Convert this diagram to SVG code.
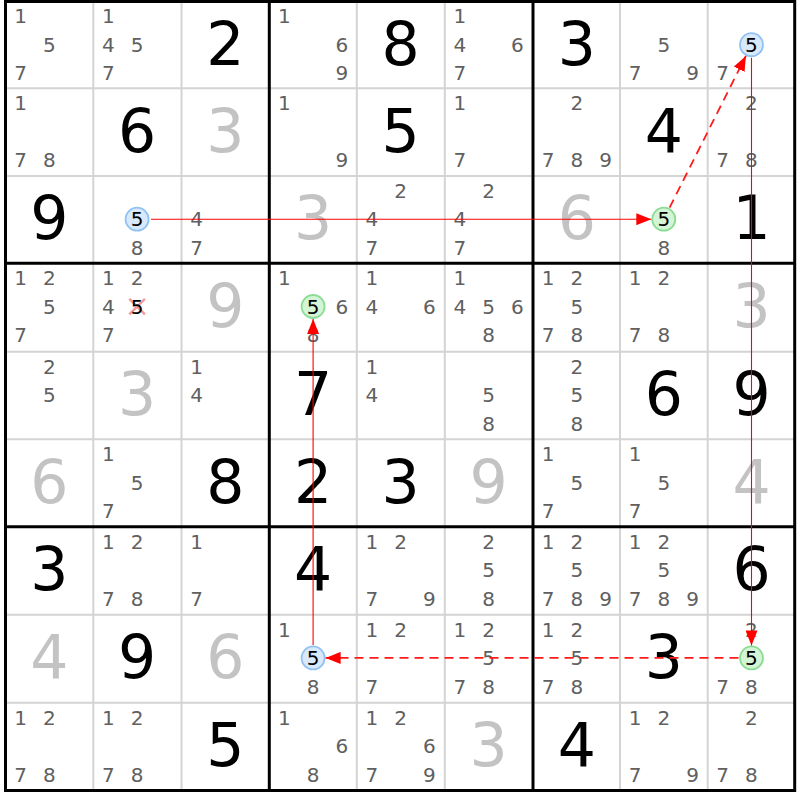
<svg xmlns="http://www.w3.org/2000/svg" width="800" height="800" viewBox="0 0 800 800">
<style>
text{font-family:"DejaVu Sans","Liberation Sans",sans-serif;text-anchor:middle}
.k{font-size:20px;fill:#606060}
.kh{font-size:20px;fill:#000}
.v{font-size:60px;fill:#000}
.vs{font-size:60px;fill:#c3c3c3}
.thin{stroke:#d4d4d4;stroke-width:2;fill:none}
.thick{stroke:#000;stroke-width:3;fill:none}
.cb{fill:#d9e9fc;stroke:#92c2f2;stroke-width:1.8}
.cg{fill:#d4f4d6;stroke:#8cdc96;stroke-width:1.8}
.sl{stroke:#ff0000;stroke-width:1.1;fill:none}
.dl{stroke:#ff1a1a;stroke-width:1.8;fill:none;stroke-dasharray:9 6}
.x{stroke:#f29a9a;stroke-width:2.5}
</style>
<defs>
<marker id="ah" markerUnits="userSpaceOnUse" viewBox="0 0 16 12" markerWidth="16" markerHeight="12" refX="15" refY="6" orient="auto"><path d="M0,0 L15,6 L0,12 z" fill="#ff0000"/></marker>
</defs>
<rect width="800" height="800" fill="#fff"/>
<g id="grid">
<path class="thin" d="M93.3,1.5V790.5M181.5,1.5V790.5M356.8,1.5V790.5M444.8,1.5V790.5M620,1.5V790.5M707.7,1.5V790.5M5.5,88.3H794.7M5.5,176H794.7M5.5,351.7H794.7M5.5,439.3H794.7M5.5,614.7H794.7M5.5,702.7H794.7"/>
<path class="thick" d="M269.3,1.5V790.5M533,1.5V790.5M5.5,263.3H794.7M5.5,526.7H794.7"/>
<rect class="thick" x="5.5" y="1.5" width="789.2" height="789"/>
</g>
<!-- row 0 -->
<g id="r0c0" transform="translate(5.5,1.5)"><text class="k" x="15" y="21.9">1</text><text class="k" x="43.8" y="50.4">5</text><text class="k" x="15" y="78.9">7</text></g>
<g id="r0c1" transform="translate(93.3,1.5)"><text class="k" x="15" y="21.9">1</text><text class="k" x="15" y="50.4">4</text><text class="k" x="43.8" y="50.4">5</text><text class="k" x="15" y="78.9">7</text></g>
<g id="r0c2" transform="translate(181.5,1.5)"><text class="v" x="43.8" y="63.3">2</text></g>
<g id="r0c3" transform="translate(269.3,1.5)"><text class="k" x="15" y="21.9">1</text><text class="k" x="72.6" y="50.4">6</text><text class="k" x="72.6" y="78.9">9</text></g>
<g id="r0c4" transform="translate(356.8,1.5)"><text class="v" x="43.8" y="63.3">8</text></g>
<g id="r0c5" transform="translate(444.8,1.5)"><text class="k" x="15" y="21.9">1</text><text class="k" x="15" y="50.4">4</text><text class="k" x="72.6" y="50.4">6</text><text class="k" x="15" y="78.9">7</text></g>
<g id="r0c6" transform="translate(533,1.5)"><text class="v" x="43.8" y="63.3">3</text></g>
<g id="r0c7" transform="translate(620,1.5)"><text class="k" x="43.8" y="50.4">5</text><text class="k" x="15" y="78.9">7</text><text class="k" x="72.6" y="78.9">9</text></g>
<g id="r0c8" transform="translate(707.7,1.5)"><circle class="cb" cx="43.8" cy="43.2" r="11.5"/><text class="kh" x="43.8" y="50.4">5</text><text class="k" x="15" y="78.9">7</text></g>
<!-- row 1 -->
<g id="r1c0" transform="translate(5.5,88.3)"><text class="k" x="15" y="21.9">1</text><text class="k" x="15" y="78.9">7</text><text class="k" x="43.8" y="78.9">8</text></g>
<g id="r1c1" transform="translate(93.3,88.3)"><text class="v" x="43.8" y="63.3">6</text></g>
<g id="r1c2" transform="translate(181.5,88.3)"><text class="vs" x="43.8" y="63.3">3</text></g>
<g id="r1c3" transform="translate(269.3,88.3)"><text class="k" x="15" y="21.9">1</text><text class="k" x="72.6" y="78.9">9</text></g>
<g id="r1c4" transform="translate(356.8,88.3)"><text class="v" x="43.8" y="63.3">5</text></g>
<g id="r1c5" transform="translate(444.8,88.3)"><text class="k" x="15" y="21.9">1</text><text class="k" x="15" y="78.9">7</text></g>
<g id="r1c6" transform="translate(533,88.3)"><text class="k" x="43.8" y="21.9">2</text><text class="k" x="15" y="78.9">7</text><text class="k" x="43.8" y="78.9">8</text><text class="k" x="72.6" y="78.9">9</text></g>
<g id="r1c7" transform="translate(620,88.3)"><text class="v" x="43.8" y="63.3">4</text></g>
<g id="r1c8" transform="translate(707.7,88.3)"><text class="k" x="43.8" y="21.9">2</text><text class="k" x="15" y="78.9">7</text><text class="k" x="43.8" y="78.9">8</text></g>
<!-- row 2 -->
<g id="r2c0" transform="translate(5.5,176)"><text class="v" x="43.8" y="63.3">9</text></g>
<g id="r2c1" transform="translate(93.3,176)"><circle class="cb" cx="43.8" cy="43.2" r="11.5"/><text class="kh" x="43.8" y="50.4">5</text><text class="k" x="43.8" y="78.9">8</text></g>
<g id="r2c2" transform="translate(181.5,176)"><text class="k" x="15" y="50.4">4</text><text class="k" x="15" y="78.9">7</text></g>
<g id="r2c3" transform="translate(269.3,176)"><text class="vs" x="43.8" y="63.3">3</text></g>
<g id="r2c4" transform="translate(356.8,176)"><text class="k" x="43.8" y="21.9">2</text><text class="k" x="15" y="50.4">4</text><text class="k" x="15" y="78.9">7</text></g>
<g id="r2c5" transform="translate(444.8,176)"><text class="k" x="43.8" y="21.9">2</text><text class="k" x="15" y="50.4">4</text><text class="k" x="15" y="78.9">7</text></g>
<g id="r2c6" transform="translate(533,176)"><text class="vs" x="43.8" y="63.3">6</text></g>
<g id="r2c7" transform="translate(620,176)"><circle class="cg" cx="43.8" cy="43.2" r="11.5"/><text class="kh" x="43.8" y="50.4">5</text><text class="k" x="43.8" y="78.9">8</text></g>
<g id="r2c8" transform="translate(707.7,176)"><text class="v" x="43.8" y="63.3">1</text></g>
<!-- row 3 -->
<g id="r3c0" transform="translate(5.5,263.3)"><text class="k" x="15" y="21.9">1</text><text class="k" x="43.8" y="21.9">2</text><text class="k" x="43.8" y="50.4">5</text><text class="k" x="15" y="78.9">7</text></g>
<g id="r3c1" transform="translate(93.3,263.3)"><text class="k" x="15" y="21.9">1</text><text class="k" x="43.8" y="21.9">2</text><text class="k" x="15" y="50.4">4</text><path class="x" d="M36,35.5L51.6,51M51.6,35.5L36,51"/><text class="kh" x="43.8" y="50.4">5</text><text class="k" x="15" y="78.9">7</text></g>
<g id="r3c2" transform="translate(181.5,263.3)"><text class="vs" x="43.8" y="63.3">9</text></g>
<g id="r3c3" transform="translate(269.3,263.3)"><text class="k" x="15" y="21.9">1</text><circle class="cg" cx="43.8" cy="43.2" r="11.5"/><text class="kh" x="43.8" y="50.4">5</text><text class="k" x="72.6" y="50.4">6</text><text class="k" x="43.8" y="78.9">8</text></g>
<g id="r3c4" transform="translate(356.8,263.3)"><text class="k" x="15" y="21.9">1</text><text class="k" x="15" y="50.4">4</text><text class="k" x="72.6" y="50.4">6</text></g>
<g id="r3c5" transform="translate(444.8,263.3)"><text class="k" x="15" y="21.9">1</text><text class="k" x="15" y="50.4">4</text><text class="k" x="43.8" y="50.4">5</text><text class="k" x="72.6" y="50.4">6</text><text class="k" x="43.8" y="78.9">8</text></g>
<g id="r3c6" transform="translate(533,263.3)"><text class="k" x="15" y="21.9">1</text><text class="k" x="43.8" y="21.9">2</text><text class="k" x="43.8" y="50.4">5</text><text class="k" x="15" y="78.9">7</text><text class="k" x="43.8" y="78.9">8</text></g>
<g id="r3c7" transform="translate(620,263.3)"><text class="k" x="15" y="21.9">1</text><text class="k" x="43.8" y="21.9">2</text><text class="k" x="15" y="78.9">7</text><text class="k" x="43.8" y="78.9">8</text></g>
<g id="r3c8" transform="translate(707.7,263.3)"><text class="vs" x="43.8" y="63.3">3</text></g>
<!-- row 4 -->
<g id="r4c0" transform="translate(5.5,351.7)"><text class="k" x="43.8" y="21.9">2</text><text class="k" x="43.8" y="50.4">5</text></g>
<g id="r4c1" transform="translate(93.3,351.7)"><text class="vs" x="43.8" y="63.3">3</text></g>
<g id="r4c2" transform="translate(181.5,351.7)"><text class="k" x="15" y="21.9">1</text><text class="k" x="15" y="50.4">4</text></g>
<g id="r4c3" transform="translate(269.3,351.7)"><text class="v" x="43.8" y="63.3">7</text></g>
<g id="r4c4" transform="translate(356.8,351.7)"><text class="k" x="15" y="21.9">1</text><text class="k" x="15" y="50.4">4</text></g>
<g id="r4c5" transform="translate(444.8,351.7)"><text class="k" x="43.8" y="50.4">5</text><text class="k" x="43.8" y="78.9">8</text></g>
<g id="r4c6" transform="translate(533,351.7)"><text class="k" x="43.8" y="21.9">2</text><text class="k" x="43.8" y="50.4">5</text><text class="k" x="43.8" y="78.9">8</text></g>
<g id="r4c7" transform="translate(620,351.7)"><text class="v" x="43.8" y="63.3">6</text></g>
<g id="r4c8" transform="translate(707.7,351.7)"><text class="v" x="43.8" y="63.3">9</text></g>
<!-- row 5 -->
<g id="r5c0" transform="translate(5.5,439.3)"><text class="vs" x="43.8" y="63.3">6</text></g>
<g id="r5c1" transform="translate(93.3,439.3)"><text class="k" x="15" y="21.9">1</text><text class="k" x="43.8" y="50.4">5</text><text class="k" x="15" y="78.9">7</text></g>
<g id="r5c2" transform="translate(181.5,439.3)"><text class="v" x="43.8" y="63.3">8</text></g>
<g id="r5c3" transform="translate(269.3,439.3)"><text class="v" x="43.8" y="63.3">2</text></g>
<g id="r5c4" transform="translate(356.8,439.3)"><text class="v" x="43.8" y="63.3">3</text></g>
<g id="r5c5" transform="translate(444.8,439.3)"><text class="vs" x="43.8" y="63.3">9</text></g>
<g id="r5c6" transform="translate(533,439.3)"><text class="k" x="15" y="21.9">1</text><text class="k" x="43.8" y="50.4">5</text><text class="k" x="15" y="78.9">7</text></g>
<g id="r5c7" transform="translate(620,439.3)"><text class="k" x="15" y="21.9">1</text><text class="k" x="43.8" y="50.4">5</text><text class="k" x="15" y="78.9">7</text></g>
<g id="r5c8" transform="translate(707.7,439.3)"><text class="vs" x="43.8" y="63.3">4</text></g>
<!-- row 6 -->
<g id="r6c0" transform="translate(5.5,526.7)"><text class="v" x="43.8" y="63.3">3</text></g>
<g id="r6c1" transform="translate(93.3,526.7)"><text class="k" x="15" y="21.9">1</text><text class="k" x="43.8" y="21.9">2</text><text class="k" x="15" y="78.9">7</text><text class="k" x="43.8" y="78.9">8</text></g>
<g id="r6c2" transform="translate(181.5,526.7)"><text class="k" x="15" y="21.9">1</text><text class="k" x="15" y="78.9">7</text></g>
<g id="r6c3" transform="translate(269.3,526.7)"><text class="v" x="43.8" y="63.3">4</text></g>
<g id="r6c4" transform="translate(356.8,526.7)"><text class="k" x="15" y="21.9">1</text><text class="k" x="43.8" y="21.9">2</text><text class="k" x="15" y="78.9">7</text><text class="k" x="72.6" y="78.9">9</text></g>
<g id="r6c5" transform="translate(444.8,526.7)"><text class="k" x="43.8" y="21.9">2</text><text class="k" x="43.8" y="50.4">5</text><text class="k" x="43.8" y="78.9">8</text></g>
<g id="r6c6" transform="translate(533,526.7)"><text class="k" x="15" y="21.9">1</text><text class="k" x="43.8" y="21.9">2</text><text class="k" x="43.8" y="50.4">5</text><text class="k" x="15" y="78.9">7</text><text class="k" x="43.8" y="78.9">8</text><text class="k" x="72.6" y="78.9">9</text></g>
<g id="r6c7" transform="translate(620,526.7)"><text class="k" x="15" y="21.9">1</text><text class="k" x="43.8" y="21.9">2</text><text class="k" x="43.8" y="50.4">5</text><text class="k" x="15" y="78.9">7</text><text class="k" x="43.8" y="78.9">8</text><text class="k" x="72.6" y="78.9">9</text></g>
<g id="r6c8" transform="translate(707.7,526.7)"><text class="v" x="43.8" y="63.3">6</text></g>
<!-- row 7 -->
<g id="r7c0" transform="translate(5.5,614.7)"><text class="vs" x="43.8" y="63.3">4</text></g>
<g id="r7c1" transform="translate(93.3,614.7)"><text class="v" x="43.8" y="63.3">9</text></g>
<g id="r7c2" transform="translate(181.5,614.7)"><text class="vs" x="43.8" y="63.3">6</text></g>
<g id="r7c3" transform="translate(269.3,614.7)"><text class="k" x="15" y="21.9">1</text><circle class="cb" cx="43.8" cy="43.2" r="11.5"/><text class="kh" x="43.8" y="50.4">5</text><text class="k" x="43.8" y="78.9">8</text></g>
<g id="r7c4" transform="translate(356.8,614.7)"><text class="k" x="15" y="21.9">1</text><text class="k" x="43.8" y="21.9">2</text><text class="k" x="15" y="78.9">7</text></g>
<g id="r7c5" transform="translate(444.8,614.7)"><text class="k" x="15" y="21.9">1</text><text class="k" x="43.8" y="21.9">2</text><text class="k" x="43.8" y="50.4">5</text><text class="k" x="15" y="78.9">7</text><text class="k" x="43.8" y="78.9">8</text></g>
<g id="r7c6" transform="translate(533,614.7)"><text class="k" x="15" y="21.9">1</text><text class="k" x="43.8" y="21.9">2</text><text class="k" x="43.8" y="50.4">5</text><text class="k" x="15" y="78.9">7</text><text class="k" x="43.8" y="78.9">8</text></g>
<g id="r7c7" transform="translate(620,614.7)"><text class="v" x="43.8" y="63.3">3</text></g>
<g id="r7c8" transform="translate(707.7,614.7)"><text class="k" x="43.8" y="21.9">2</text><circle class="cg" cx="43.8" cy="43.2" r="11.5"/><text class="kh" x="43.8" y="50.4">5</text><text class="k" x="15" y="78.9">7</text><text class="k" x="43.8" y="78.9">8</text></g>
<!-- row 8 -->
<g id="r8c0" transform="translate(5.5,702.7)"><text class="k" x="15" y="21.9">1</text><text class="k" x="43.8" y="21.9">2</text><text class="k" x="15" y="78.9">7</text><text class="k" x="43.8" y="78.9">8</text></g>
<g id="r8c1" transform="translate(93.3,702.7)"><text class="k" x="15" y="21.9">1</text><text class="k" x="43.8" y="21.9">2</text><text class="k" x="15" y="78.9">7</text><text class="k" x="43.8" y="78.9">8</text></g>
<g id="r8c2" transform="translate(181.5,702.7)"><text class="v" x="43.8" y="63.3">5</text></g>
<g id="r8c3" transform="translate(269.3,702.7)"><text class="k" x="15" y="21.9">1</text><text class="k" x="72.6" y="50.4">6</text><text class="k" x="43.8" y="78.9">8</text></g>
<g id="r8c4" transform="translate(356.8,702.7)"><text class="k" x="15" y="21.9">1</text><text class="k" x="43.8" y="21.9">2</text><text class="k" x="72.6" y="50.4">6</text><text class="k" x="15" y="78.9">7</text><text class="k" x="72.6" y="78.9">9</text></g>
<g id="r8c5" transform="translate(444.8,702.7)"><text class="vs" x="43.8" y="63.3">3</text></g>
<g id="r8c6" transform="translate(533,702.7)"><text class="v" x="43.8" y="63.3">4</text></g>
<g id="r8c7" transform="translate(620,702.7)"><text class="k" x="15" y="21.9">1</text><text class="k" x="43.8" y="21.9">2</text><text class="k" x="15" y="78.9">7</text><text class="k" x="72.6" y="78.9">9</text></g>
<g id="r8c8" transform="translate(707.7,702.7)"><text class="k" x="43.8" y="21.9">2</text><text class="k" x="15" y="78.9">7</text><text class="k" x="43.8" y="78.9">8</text></g>
<g id="connectors">
<line class="sl" x1="151" y1="219.2" x2="651.3" y2="219.2" marker-end="url(#ah)"/>
<line class="dl" x1="669.6" y1="207.6" x2="745.9" y2="55.9" marker-end="url(#ah)"/>
<line class="sl" x1="751.5" y1="57.7" x2="751.5" y2="645.4" marker-end="url(#ah)"/>
<line class="dl" x1="738.5" y1="657.9" x2="325.6" y2="657.9" marker-end="url(#ah)"/>
<line class="sl" x1="313.1" y1="644.9" x2="313.1" y2="319" marker-end="url(#ah)"/>
</g>
</svg>
